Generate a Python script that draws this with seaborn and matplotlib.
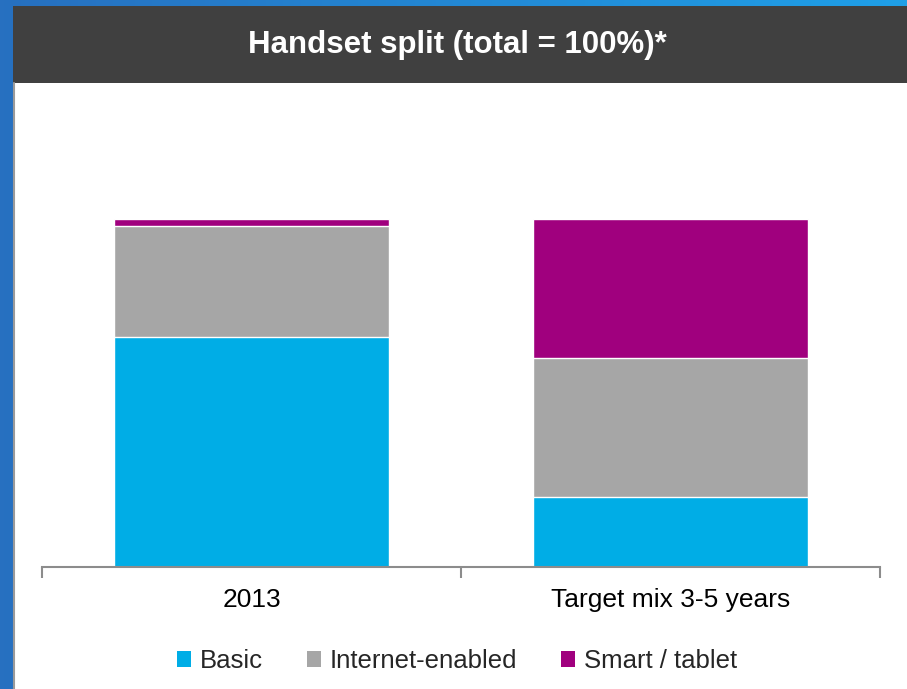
import numpy as np
import pandas as pd
import seaborn as sns
import matplotlib.pyplot as plt
from matplotlib.patches import Patch, Rectangle
from matplotlib.colors import LinearSegmentedColormap

categories = ["2013", "Target mix 3-5 years"]
segments = ["Basic", "Internet-enabled", "Smart / tablet"]
basic = [66, 20]
internet = [32, 40]
smart = [2, 40]
colors = {"Basic": "#00ADE6", "Internet-enabled": "#A6A6A6", "Smart / tablet": "#A0007E"}

df = pd.DataFrame({"category": categories, "Basic": basic,
                   "Internet-enabled": internet, "Smart / tablet": smart})
# cumulative tops for stacking
df["cum_basic"] = df["Basic"]
df["cum_internet"] = df["cum_basic"] + df["Internet-enabled"]
df["cum_smart"] = df["cum_internet"] + df["Smart / tablet"]

sns.set_theme(style="white")
plt.rcParams["font.family"] = ["Liberation Sans", "DejaVu Sans"]

W, H = 907, 689
fig = plt.figure(figsize=(W / 100, H / 100), dpi=100)

# blue frame background with horizontal gradient
bg = fig.add_axes([0, 0, 1, 1])
grad = np.linspace(0, 1, 256).reshape(1, -1)
cmap = LinearSegmentedColormap.from_list("frame", ["#2770C0", "#1FA0E8"])
bg.imshow(grad, aspect="auto", cmap=cmap, extent=[0, W, H, 0])
bg.set_xlim(0, W)
bg.set_ylim(H, 0)
bg.axis("off")
# white panel + title banner
bg.add_patch(Rectangle((13, 83), W - 13, H - 83, facecolor="white", edgecolor="none"))
bg.add_patch(Rectangle((13, 6), W - 13, 77, facecolor="#404040", edgecolor="none"))
bg.plot([13.5, 13.5], [83, H], color="#9a9a9a", lw=1.5)
bg.text(457, 45, "Handset split (total = 100%)*", color="white", fontsize=22.5,
        fontweight="bold", ha="center", va="center")

ax = fig.add_axes([42 / W, 1 - 567 / H, 838 / W, (567 - 100) / H])
ax.set_facecolor("none")
bar_w = 0.656
sns.barplot(data=df, x="category", y="cum_smart", color=colors["Smart / tablet"],
            width=bar_w, saturation=1, ax=ax, order=categories)
sns.barplot(data=df, x="category", y="cum_internet", color=colors["Internet-enabled"],
            width=bar_w, saturation=1, ax=ax, order=categories)
sns.barplot(data=df, x="category", y="cum_basic", color=colors["Basic"],
            width=bar_w, saturation=1, ax=ax, order=categories)

ax.set_xlim(-0.5, 1.5)
ax.set_ylim(0, 100 * 467 / 348)
ax.set_xlabel("")
ax.set_ylabel("")
ax.set_yticks([])
for s in ["left", "right", "top"]:
    ax.spines[s].set_visible(False)
ax.spines["bottom"].set_color("#8c8c8c")
ax.spines["bottom"].set_linewidth(1.5)
ax.set_xticks([-0.5, 0.5, 1.5], minor=True)
ax.tick_params(axis="x", which="minor", length=8, width=1.5, color="#8c8c8c", direction="out", bottom=True)
ax.tick_params(axis="x", which="major", length=0, pad=15, labelsize=19, labelcolor="black")

handles = [Patch(facecolor=colors[s], edgecolor="none", label=s) for s in segments]
fig.legend(handles=handles, loc="center", bbox_to_anchor=(457 / W, 1 - 661 / H), ncol=3,
           frameon=False, fontsize=18.5, handlelength=0.55, handleheight=0.55,
           handletextpad=0.35, columnspacing=1.7)

fig.savefig("out.png", dpi=100)
